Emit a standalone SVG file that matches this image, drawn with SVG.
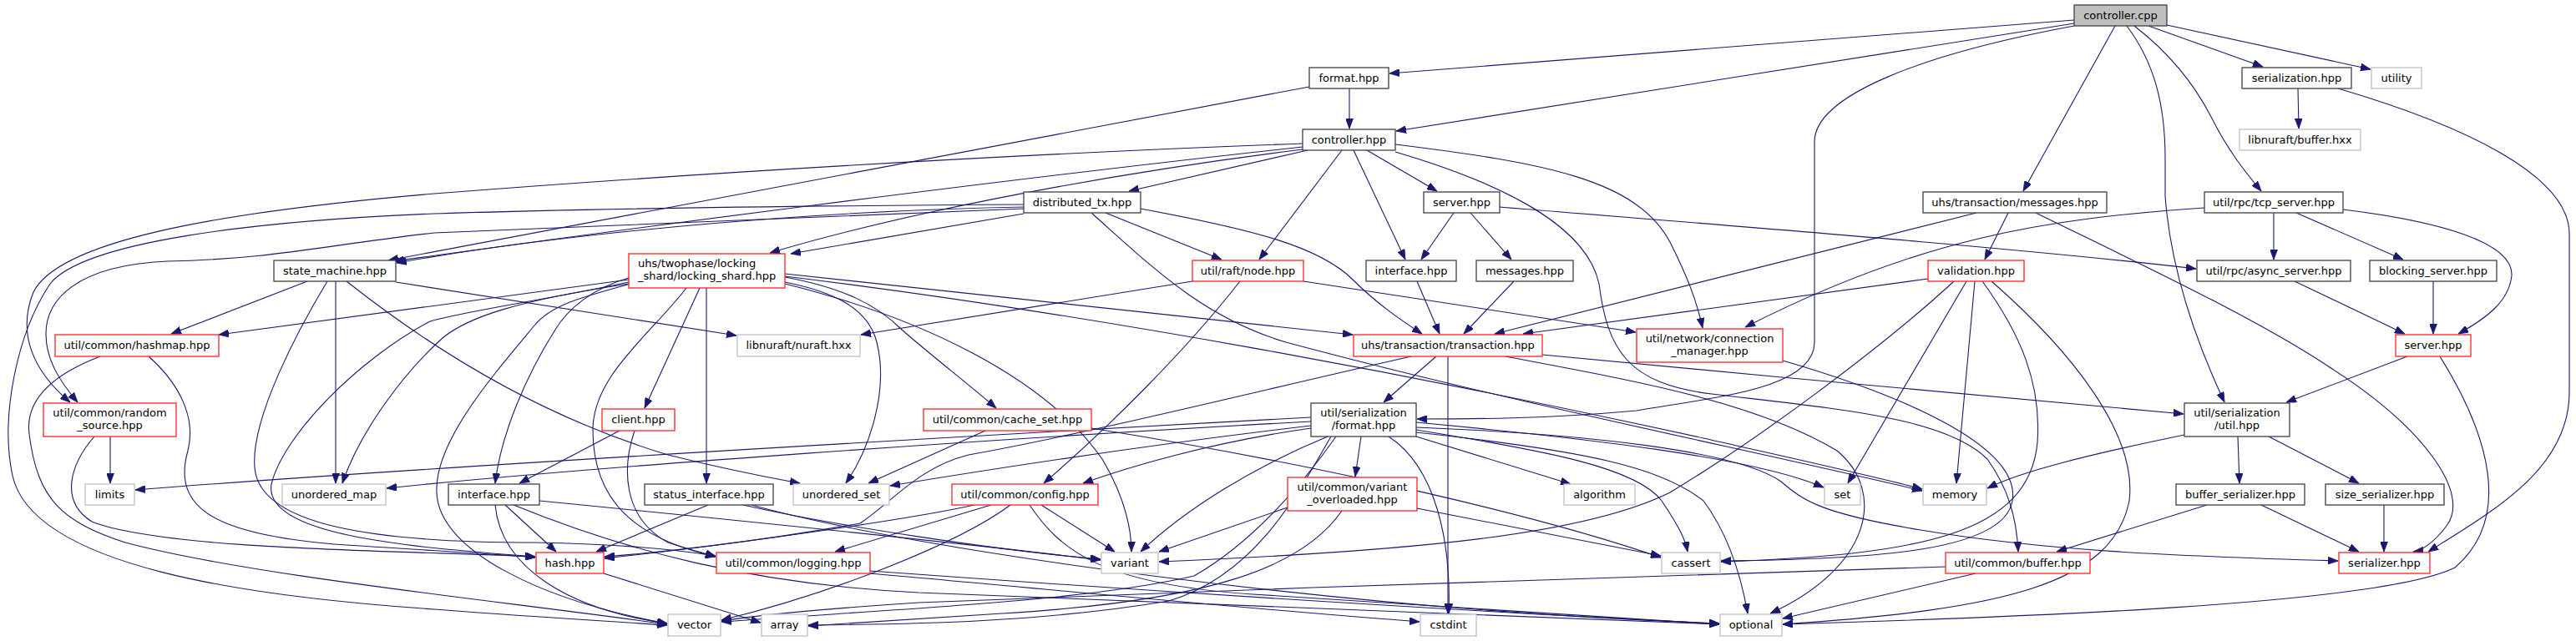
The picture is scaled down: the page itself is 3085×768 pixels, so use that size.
<svg xmlns="http://www.w3.org/2000/svg" width="3085" height="768" viewBox="0 0 3085 768">
<defs>
<style>
rect{stroke-width:1.3;fill:#fff}
.n{stroke:#404040}
.r{stroke:#ff2020}
.g{stroke:#c0c0c0}
.root{stroke:#404040;fill:#bfbfbf}
text{font-family:"DejaVu Sans","Liberation Sans",sans-serif;font-size:13px;fill:#000;text-anchor:middle}
text.l{text-anchor:start}
#edges path{fill:none;stroke:#191970;stroke-width:1.1;marker-end:url(#ah)}
</style>
<marker id="ah" viewBox="0 0 12 9" refX="12" refY="4.5" markerWidth="12" markerHeight="9" markerUnits="userSpaceOnUse" orient="auto"><path d="M0,0 L12,4.5 L0,9 Z" fill="#191970" stroke="#191970" stroke-width="0.8"/></marker>
</defs>
<rect x="0" y="0" width="3085" height="768" fill="#fff" stroke="none"/>
<g id="edges">
<path d="M2484,24 L1664,88"/>
<path d="M2484,28 L1672,157"/>
<path d="M2484,31 C2300,65 2173,115 2173,170 L2173,410 C2173,465 2060,475 1960,492 C1850,502 1760,502 1697,502"/>
<path d="M2533,31 L2423,229"/>
<path d="M2573,31 L2710,80"/>
<path d="M2595,30 L2839,83"/>
<path d="M2556,31 C2600,65 2630,105 2648,140 C2668,180 2688,205 2708,229"/>
<path d="M2547,31 C2580,75 2593,125 2593,190 L2593,235 C2600,330 2635,420 2664,482"/>
<path d="M1616,106 L1616,154"/>
<path d="M1568,104 L465,312"/>
<path d="M1566,180 L1352,229"/>
<path d="M1560,176 C1200,215 720,278 472,313"/>
<path d="M1560,179 C1350,205 1100,250 922,303"/>
<path d="M1560,172 C1200,185 800,210 520,232 C250,255 70,290 40,350 C20,400 40,445 84,482"/>
<path d="M1607,180 L1508,311"/>
<path d="M1621,180 L1683,311"/>
<path d="M1637,180 L1721,229"/>
<path d="M1671,173 C1850,195 1960,215 2000,290 C2020,330 2032,360 2039,393"/>
<path d="M1671,182 C1800,220 1900,270 1915,340 C1925,420 1950,460 2050,472 C2200,490 2330,500 2380,550 C2405,585 2415,620 2417,661"/>
<path d="M1741,255 L1702,311"/>
<path d="M1761,255 L1810,311"/>
<path d="M1796,248 C2000,265 2400,295 2630,322"/>
<path d="M1697,337 L1724,400"/>
<path d="M1813,337 L1753,400"/>
<path d="M1428,337 L1031,401"/>
<path d="M1561,337 L1959,398"/>
<path d="M1485,337 C1420,420 1330,510 1250,579"/>
<path d="M1366,250 C1500,275 1580,295 1620,335 C1650,365 1680,385 1703,400"/>
<path d="M1226,245 C900,247 700,250 520,256 C300,265 100,290 60,340 C20,400 0,500 15,570 C40,680 300,715 520,730 C650,740 740,745 799,749"/>
<path d="M1226,250 C900,262 650,272 520,279 C380,295 330,310 200,313 C90,318 55,360 55,400 C55,430 70,455 93,482"/>
<path d="M1226,256 L947,304"/>
<path d="M1324,255 L1463,311"/>
<path d="M1226,248 C1000,252 700,275 475,315"/>
<path d="M1307,255 C1380,320 1440,380 1540,410 C1800,480 2100,540 2302,588"/>
<path d="M753,335 L262,401"/>
<path d="M753,340 C620,360 560,380 530,405 C480,450 430,520 410,579"/>
<path d="M838,345 L772,489"/>
<path d="M846,345 L846,579"/>
<path d="M822,345 C780,400 710,450 710,515 C710,600 760,645 857,667"/>
<path d="M753,333 C710,345 680,370 665,395 C630,450 600,520 593,579"/>
<path d="M755,340 C700,355 660,365 640,390 C590,450 520,530 523,590 C525,660 650,720 799,747"/>
<path d="M753,338 C650,360 560,372 515,385 C430,430 340,520 325,580 C315,640 480,655 641,667"/>
<path d="M392,337 C360,390 300,500 305,560 C310,630 450,650 640,650 C760,652 820,660 857,666"/>
<path d="M940,328 L1620,401"/>
<path d="M940,340 C1100,380 1250,450 1320,550 C1350,600 1355,640 1355,661"/>
<path d="M940,332 C1010,345 1050,365 1080,395 C1120,430 1160,460 1193,489"/>
<path d="M940,338 C1000,350 1040,370 1050,410 C1065,470 1040,540 1013,579"/>
<path d="M940,331 C1300,375 1700,450 2040,525 C2150,550 2250,572 2302,586"/>
<path d="M368,337 L205,400"/>
<path d="M402,337 L402,579"/>
<path d="M415,337 C520,420 650,500 800,545 C880,565 920,572 958,579"/>
<path d="M474,338 L882,402"/>
<path d="M178,427 C215,460 235,500 225,540 C205,610 260,640 400,652 C520,660 600,664 641,668"/>
<path d="M120,427 C60,450 30,480 35,520 C45,600 75,625 150,650 C300,690 600,720 799,748"/>
<path d="M132,523 L132,579"/>
<path d="M113,523 C85,555 70,600 110,625 C200,660 500,660 641,667"/>
<path d="M605,605 L666,661"/>
<path d="M593,605 C600,680 680,730 799,747"/>
<path d="M646,600 C900,625 1150,650 1318,671"/>
<path d="M615,605 C750,660 900,700 1100,710 C1500,725 1900,740 2059,748"/>
<path d="M848,605 L714,661"/>
<path d="M890,605 C1000,630 1200,660 1318,670"/>
<path d="M900,605 C1100,660 1600,730 2059,747"/>
<path d="M742,516 L622,579"/>
<path d="M760,516 C745,560 745,620 800,650 C830,660 845,663 857,667"/>
<path d="M723,687 L911,746"/>
<path d="M1042,684 C1400,710 1800,735 2059,747"/>
<path d="M1042,687 C1300,710 1500,730 1700,745"/>
<path d="M1180,516 L1040,579"/>
<path d="M1307,513 C1600,560 1850,620 1989,668"/>
<path d="M1167,605 C1100,620 900,650 724,669"/>
<path d="M1187,605 L1000,661"/>
<path d="M1210,605 C1150,650 1000,710 864,743"/>
<path d="M1233,605 C1270,660 1320,700 1500,712 C1800,730 1950,742 2059,748"/>
<path d="M1247,605 L1335,661"/>
<path d="M1720,427 L1657,482"/>
<path d="M1847,425 C2100,450 2400,475 2615,496"/>
<path d="M1734,427 L1734,735"/>
<path d="M1690,427 C1500,470 1300,520 1160,545 C1100,560 1070,600 1030,627 C900,650 780,663 724,667"/>
<path d="M1803,427 C1950,455 2100,480 2200,540 C2260,590 2240,680 2120,735"/>
<path d="M1630,523 L1623,571"/>
<path d="M1663,523 C1720,560 1738,650 1735,735"/>
<path d="M1696,523 L1881,580"/>
<path d="M1696,515 C1850,540 1960,560 1990,600 C2010,630 2018,645 2021,661"/>
<path d="M1696,506 C1900,525 2100,548 2184,584"/>
<path d="M1696,512 C1900,520 2080,540 2133,577 C2160,600 2180,615 2300,635 C2450,660 2600,666 2800,672"/>
<path d="M1696,518 C1900,540 1990,560 2040,600 C2070,640 2085,690 2093,735"/>
<path d="M1570,513 C1450,530 1350,560 1297,579"/>
<path d="M1570,510 C1400,530 1200,560 1066,582"/>
<path d="M1570,505 C1200,525 700,560 463,585"/>
<path d="M1570,500 C1200,520 500,560 162,587"/>
<path d="M1590,523 C1500,560 1420,610 1366,661"/>
<path d="M1600,523 C1560,580 1500,650 1430,690 C1300,720 1100,728 864,745"/>
<path d="M1594,523 C1550,600 1500,690 1400,720 C1250,745 1100,748 968,749"/>
<path d="M1697,609 L1989,666"/>
<path d="M1542,608 L1388,661"/>
<path d="M1607,612 C1560,680 1450,720 1200,735 C1100,742 1020,747 968,750"/>
<path d="M2309,334 L1824,400"/>
<path d="M2340,337 C2250,420 2100,530 2000,590 C1900,640 1700,660 1388,673"/>
<path d="M2355,337 L2213,579"/>
<path d="M2365,337 L2343,579"/>
<path d="M2374,337 C2420,400 2445,460 2440,530 C2430,640 2300,665 2061,673"/>
<path d="M2385,337 C2480,420 2560,520 2550,600 C2530,700 2400,730 2135,748"/>
<path d="M2135,432 C2300,480 2420,540 2410,600 C2400,660 2250,670 2061,672"/>
<path d="M2405,255 L2377,311"/>
<path d="M2367,255 L1790,400"/>
<path d="M2438,255 C2550,310 2700,380 2790,440 C2900,510 2960,590 2930,630 C2915,650 2900,660 2890,661"/>
<path d="M2640,249 C2450,262 2300,285 2090,392"/>
<path d="M2723,255 L2723,311"/>
<path d="M2750,255 L2878,311"/>
<path d="M2806,251 C2920,265 3010,290 3008,330 C3005,360 2980,380 2944,400"/>
<path d="M2748,337 L2880,400"/>
<path d="M2914,337 L2914,400"/>
<path d="M2883,427 L2738,482"/>
<path d="M2922,427 C2980,520 3010,620 2940,680 C2850,725 2400,740 2135,748"/>
<path d="M2752,106 L2753,154"/>
<path d="M2800,106 C2950,150 3077,210 3077,280 L3077,470 C3077,560 2990,610 2908,661"/>
<path d="M2680,523 L2682,579"/>
<path d="M2717,523 L2825,579"/>
<path d="M2616,521 C2500,545 2420,565 2380,585"/>
<path d="M2708,605 L2825,661"/>
<path d="M2643,605 L2463,661"/>
<path d="M2855,605 L2855,661"/>
<path d="M2366,687 L2135,741"/>
<path d="M2330,679 C2000,690 1500,705 1100,722 C980,730 900,738 864,744"/>
</g>
<g id="node1"><rect class="root" x="2484" y="6" width="111" height="25"/><text x="2539.5" y="23">controller.cpp</text></g>
<g id="node2"><rect class="n" x="1568" y="81" width="95" height="25"/><text x="1615.5" y="98">format.hpp</text></g>
<g id="node3"><rect class="n" x="1560" y="155" width="111" height="25"/><text x="1615.5" y="172">controller.hpp</text></g>
<g id="node4"><rect class="n" x="1705" y="230" width="91" height="25"/><text x="1750.5" y="247">server.hpp</text></g>
<g id="node5"><rect class="n" x="1636" y="312" width="108" height="25"/><text x="1690" y="329">interface.hpp</text></g>
<g id="node6"><rect class="n" x="1768" y="312" width="116" height="25"/><text x="1826" y="329">messages.hpp</text></g>
<g id="node7"><rect class="r" x="1428" y="312" width="133" height="25"/><text x="1494.5" y="329">util/raft/node.hpp</text></g>
<g id="node8"><rect class="n" x="1226" y="230" width="140" height="25"/><text x="1296" y="247">distributed_tx.hpp</text></g>
<g id="node9"><rect class="r" x="753" y="304" width="187" height="41"/><text class="l" x="764" y="320">uhs/twophase/locking</text><text class="l" x="764" y="335">_shard/locking_shard.hpp</text></g>
<g id="node10"><rect class="n" x="328" y="312" width="146" height="25"/><text x="401" y="329">state_machine.hpp</text></g>
<g id="node11"><rect class="r" x="66" y="401" width="196" height="26"/><text x="164" y="418">util/common/hashmap.hpp</text></g>
<g id="node12"><rect class="r" x="52" y="483" width="159" height="40"/><text x="131.5" y="499">util/common/random</text><text x="131.5" y="514">_source.hpp</text></g>
<g id="node13"><rect class="g" x="102" y="580" width="59" height="25"/><text x="131.5" y="597">limits</text></g>
<g id="node14"><rect class="g" x="338" y="580" width="124" height="25"/><text x="400" y="597">unordered_map</text></g>
<g id="node15"><rect class="g" x="883" y="401" width="147" height="26"/><text x="956.5" y="418">libnuraft/nuraft.hxx</text></g>
<g id="node16"><rect class="r" x="721" y="490" width="87" height="26"/><text x="764.5" y="507">client.hpp</text></g>
<g id="node17"><rect class="n" x="537" y="580" width="109" height="25"/><text x="591.5" y="597">interface.hpp</text></g>
<g id="node18"><rect class="n" x="772" y="580" width="154" height="25"/><text x="849" y="597">status_interface.hpp</text></g>
<g id="node19"><rect class="g" x="950" y="580" width="115" height="25"/><text x="1007.5" y="597">unordered_set</text></g>
<g id="node20"><rect class="r" x="642" y="662" width="81" height="25"/><text x="682.5" y="679">hash.hpp</text></g>
<g id="node21"><rect class="r" x="858" y="662" width="184" height="25"/><text x="950" y="679">util/common/logging.hpp</text></g>
<g id="node22"><rect class="g" x="800" y="736" width="63" height="26"/><text x="831.5" y="753">vector</text></g>
<g id="node23"><rect class="g" x="912" y="736" width="55" height="26"/><text x="939.5" y="753">array</text></g>
<g id="node24"><rect class="r" x="1106" y="490" width="201" height="26"/><text x="1206.5" y="507">util/common/cache_set.hpp</text></g>
<g id="node25"><rect class="r" x="1140" y="580" width="175" height="25"/><text x="1227.5" y="597">util/common/config.hpp</text></g>
<g id="node26"><rect class="g" x="1319" y="662" width="68" height="25"/><text x="1353" y="679">variant</text></g>
<g id="node27"><rect class="r" x="1621" y="401" width="226" height="26"/><text x="1734" y="418">uhs/transaction/transaction.hpp</text></g>
<g id="node28"><rect class="n" x="1570" y="483" width="126" height="40"/><text x="1633" y="499">util/serialization</text><text x="1633" y="514">/format.hpp</text></g>
<g id="node29"><rect class="r" x="1542" y="572" width="155" height="40"/><text x="1619.5" y="588">util/common/variant</text><text x="1619.5" y="603">_overloaded.hpp</text></g>
<g id="node30"><rect class="g" x="1873" y="580" width="85" height="25"/><text x="1915.5" y="597">algorithm</text></g>
<g id="node31"><rect class="g" x="1990" y="662" width="70" height="25"/><text x="2025" y="679">cassert</text></g>
<g id="node32"><rect class="g" x="1701" y="736" width="67" height="26"/><text x="1734.5" y="753">cstdint</text></g>
<g id="node33"><rect class="r" x="1960" y="394" width="175" height="40"/><text x="2047.5" y="410">util/network/connection</text><text x="2047.5" y="425">_manager.hpp</text></g>
<g id="node34"><rect class="g" x="2185" y="580" width="43" height="25"/><text x="2206.5" y="597">set</text></g>
<g id="node35"><rect class="g" x="2303" y="580" width="76" height="25"/><text x="2341" y="597">memory</text></g>
<g id="node36"><rect class="r" x="2330" y="662" width="173" height="25"/><text x="2416.5" y="679">util/common/buffer.hpp</text></g>
<g id="node37"><rect class="g" x="2060" y="736" width="74" height="26"/><text x="2097" y="753">optional</text></g>
<g id="node38"><rect class="n" x="2303" y="230" width="220" height="25"/><text x="2413" y="247">uhs/transaction/messages.hpp</text></g>
<g id="node39"><rect class="r" x="2309" y="312" width="115" height="25"/><text x="2366.5" y="329">validation.hpp</text></g>
<g id="node40"><rect class="n" x="2685" y="81" width="131" height="25"/><text x="2750.5" y="98">serialization.hpp</text></g>
<g id="node41"><rect class="g" x="2840" y="81" width="60" height="25"/><text x="2870" y="98">utility</text></g>
<g id="node42"><rect class="g" x="2682" y="155" width="145" height="25"/><text x="2754.5" y="172">libnuraft/buffer.hxx</text></g>
<g id="node43"><rect class="n" x="2640" y="230" width="166" height="25"/><text x="2723" y="247">util/rpc/tcp_server.hpp</text></g>
<g id="node44"><rect class="n" x="2631" y="312" width="184" height="25"/><text x="2723" y="329">util/rpc/async_server.hpp</text></g>
<g id="node45"><rect class="n" x="2838" y="312" width="152" height="25"/><text x="2914" y="329">blocking_server.hpp</text></g>
<g id="node46"><rect class="r" x="2869" y="401" width="90" height="26"/><text x="2914" y="418">server.hpp</text></g>
<g id="node47"><rect class="n" x="2616" y="483" width="126" height="40"/><text x="2679" y="499">util/serialization</text><text x="2679" y="514">/util.hpp</text></g>
<g id="node48"><rect class="n" x="2606" y="580" width="154" height="25"/><text x="2683" y="597">buffer_serializer.hpp</text></g>
<g id="node49"><rect class="n" x="2785" y="580" width="142" height="25"/><text x="2856" y="597">size_serializer.hpp</text></g>
<g id="node50"><rect class="r" x="2801" y="662" width="109" height="25"/><text x="2855.5" y="679">serializer.hpp</text></g>
</svg>
